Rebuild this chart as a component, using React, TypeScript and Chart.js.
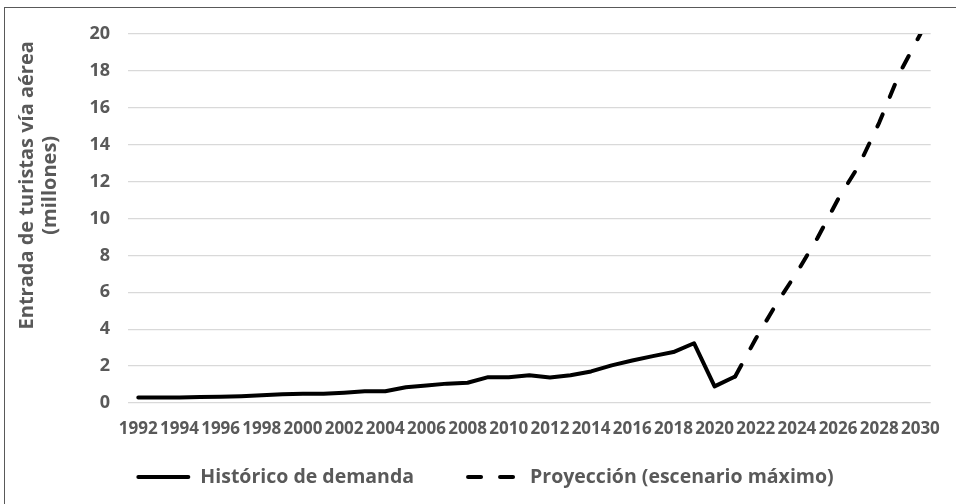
import React, { useEffect, useRef } from "react";
import { Chart, registerables } from "chart.js";

Chart.register(...registerables);

const years = [
  "1992", "1993", "1994", "1995", "1996", "1997", "1998", "1999", "2000", "2001",
  "2002", "2003", "2004", "2005", "2006", "2007", "2008", "2009", "2010", "2011",
  "2012", "2013", "2014", "2015", "2016", "2017", "2018", "2019", "2020", "2021",
  "2022", "2023", "2024", "2025", "2026", "2027", "2028", "2029", "2030",
];

// 1992 – 2021
const historico = [
  0.3, 0.3, 0.3, 0.33, 0.34, 0.37, 0.42, 0.48, 0.5, 0.5,
  0.56, 0.64, 0.64, 0.85, 0.95, 1.05, 1.1, 1.4, 1.4, 1.5,
  1.38, 1.5, 1.71, 2.04, 2.3, 2.54, 2.76, 3.24, 0.9, 1.44,
];

// 2021 – 2030
const proyeccion = [1.44, 3.48, 5.37, 7.08, 8.94, 11.05, 12.85, 15.2, 17.9, 20.0];

const yTicks = [0, 2, 4, 6, 8, 10, 12, 14, 16, 18, 20];

const yTitle = ["Entrada de turistas vía aérea", "(millones)"];
const seriesNames = ["Histórico de demanda", "Proyección (escenario máximo)"];

const GREY = "#595959";
const FONT = "'Open Sans', sans-serif";

export default function App() {
  const ref = useRef<HTMLCanvasElement | null>(null);

  useEffect(() => {
    document.body.style.margin = "0";
    const canvas = ref.current;
    if (!canvas) return;

    const histData = years.map((_, i) => (i < historico.length ? historico[i] : null));
    const projStart = years.length - proyeccion.length;
    const projData = years.map((_, i) => (i >= projStart ? proyeccion[i - projStart] : null));

    const yTitlePlugin = {
      id: "yTitlePlugin",
      afterDraw(chart: any) {
        const { ctx, chartArea } = chart;
        const cy = chartArea.top + chartArea.height * 0.41;
        ctx.save();
        ctx.translate(27, cy);
        ctx.rotate(-Math.PI / 2);
        ctx.font = `bold 20px ${FONT}`;
        ctx.fillStyle = GREY;
        ctx.textAlign = "center";
        ctx.textBaseline = "middle";
        ctx.fillText(yTitle[0], 0, 0);
        ctx.fillText(yTitle[1], 0, 23);
        ctx.restore();
      },
    };

    const legendPlugin = {
      id: "customLegend",
      afterDraw(chart: any) {
        const { ctx } = chart;
        const sampleW = 54;
        const textGap = 10;
        const itemGap = 52;
        const cy = 477;
        ctx.save();
        ctx.font = `bold 19.5px ${FONT}`;
        const items = chart.data.datasets.map((ds: any) => ({
          ds,
          w: sampleW + textGap + ctx.measureText(ds.label).width,
        }));
        const total = items.reduce((s: number, it: any) => s + it.w, 0) + itemGap * (items.length - 1);
        let x = chart.width / 2 + 7 - total / 2;
        items.forEach((it: any) => {
          const ds = it.ds;
          ctx.beginPath();
          ctx.strokeStyle = ds.borderColor;
          ctx.lineWidth = ds.borderWidth;
          ctx.lineCap = ds.borderCapStyle || "butt";
          ctx.setLineDash(ds.borderDash || []);
          ctx.moveTo(x + 2, cy);
          ctx.lineTo(x + sampleW - 2, cy);
          ctx.stroke();
          ctx.setLineDash([]);
          ctx.fillStyle = GREY;
          ctx.textAlign = "left";
          ctx.textBaseline = "middle";
          ctx.fillText(ds.label, x + sampleW + textGap, cy);
          x += it.w + itemGap;
        });
        ctx.restore();
      },
    };

    const chart = new Chart(canvas, {
      type: "line",
      data: {
        labels: years,
        datasets: [
          {
            label: seriesNames[0],
            data: histData,
            borderColor: "#000",
            backgroundColor: "#000",
            borderWidth: 4,
            pointRadius: 0,
            pointHoverRadius: 0,
            tension: 0,
            borderJoinStyle: "round",
            borderCapStyle: "round",
            spanGaps: false,
          },
          {
            label: seriesNames[1],
            data: projData,
            borderColor: "#000",
            backgroundColor: "#000",
            borderWidth: 4,
            borderDash: [13, 19],
            pointRadius: 0,
            pointHoverRadius: 0,
            tension: 0,
            borderJoinStyle: "round",
            borderCapStyle: "round",
            spanGaps: false,
          },
        ],
      },
      options: {
        responsive: false,
        animation: false,
        layout: { padding: { top: 34, right: 13, bottom: 64, left: 0 } },
        plugins: {
          tooltip: { enabled: false },
          legend: { display: false },
        },
        scales: {
          x: {
            offset: true,
            grid: { display: false, drawTicks: false },
            border: { display: false },
            afterFit(scale: any) {
              scale.height = 37;
            },
            ticks: {
              autoSkip: false,
              maxRotation: 0,
              minRotation: 0,
              padding: 16,
              color: GREY,
              font: { family: FONT, size: 17, weight: "bold" },
              callback: (_v: any, i: number) => (i % 2 === 0 ? years[i] : ""),
            },
          },
          y: {
            min: yTicks[0],
            max: yTicks[yTicks.length - 1],
            afterFit(scale: any) {
              scale.width = 128;
            },
            grid: { color: "#d9d9d9", lineWidth: 1.3, drawTicks: false },
            border: { display: false },
            ticks: {
              stepSize: yTicks[1] - yTicks[0],
              padding: 18,
              color: GREY,
              font: { family: FONT, size: 18, weight: "bold" },
            },
          },
        },
      },
      plugins: [yTitlePlugin, legendPlugin],
    });

    return () => chart.destroy();
  }, []);

  return (
    <div
      style={{
        position: "fixed",
        left: 0,
        top: 0,
        width: 956,
        height: 504,
        background: "#fff",
        overflow: "hidden",
      }}
    >
      <div
        style={{
          position: "absolute",
          left: 4,
          top: 7,
          right: -10,
          bottom: -10,
          borderLeft: `1px solid ${GREY}`,
          borderTop: `1px solid ${GREY}`,
        }}
      />
      <canvas
        ref={ref}
        width={956}
        height={504}
        style={{ position: "absolute", left: 0, top: 0, display: "block" }}
      />
    </div>
  );
}
